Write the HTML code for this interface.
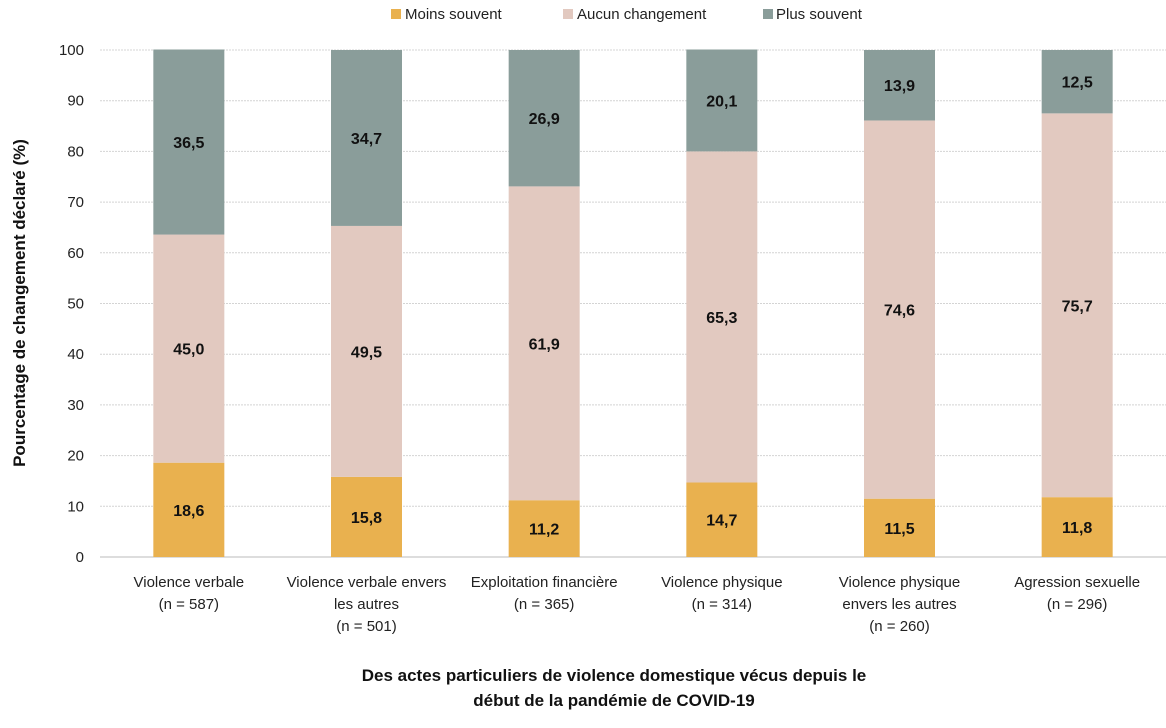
<!DOCTYPE html>
<html><head><meta charset="utf-8"><style>
body{margin:0;background:#fff;font-family:"Liberation Sans",sans-serif;}
svg text{font-family:"Liberation Sans",sans-serif;}
</style></head><body>
<svg id="chart" width="1166" height="723">
<g id="legend">
 <rect x="391" y="9" width="10" height="10" fill="#E9B14F"/>
 <text x="405" y="19" font-size="15" fill="#222">Moins souvent</text>
 <rect x="563" y="9" width="10" height="10" fill="#E2C9C0"/>
 <text x="577" y="19" font-size="15" fill="#222">Aucun changement</text>
 <rect x="763" y="9" width="10" height="10" fill="#8A9D9A"/>
 <text x="776" y="19" font-size="15" fill="#222">Plus souvent</text>
</g>
<g id="grid"></g><g id="bars"></g><g id="axis"></g>
<text transform="translate(25,303) rotate(-90)" text-anchor="middle" font-size="17" font-weight="bold" fill="#111">Pourcentage de changement déclaré (%)</text>
<text x="614" y="681" text-anchor="middle" font-size="17" font-weight="bold" fill="#111">Des actes particuliers de violence domestique vécus depuis le</text>
<text x="614" y="706" text-anchor="middle" font-size="17" font-weight="bold" fill="#111">début de la pandémie de COVID-19</text>
</svg>
<script>
const categories=[["Violence verbale","(n = 587)"],["Violence verbale envers","les autres","(n = 501)"],["Exploitation financière","(n = 365)"],["Violence physique","(n = 314)"],["Violence physique","envers les autres","(n = 260)"],["Agression sexuelle","(n = 296)"]];
const moins=[18.6,15.8,11.2,14.7,11.5,11.8];
const aucun=[45.0,49.5,61.9,65.3,74.6,75.7];
const plus=[36.5,34.7,26.9,20.1,13.9,12.5];
const yTicks=[0,10,20,30,40,50,60,70,80,90,100];
const NS="http://www.w3.org/2000/svg";
const x0=100,x1=1166,yb=557,yt=50;
const y=v=>yb-(yb-yt)*v/100;
const band=(x1-x0)/categories.length;
const xc=i=>x0+band*(i+0.5);
function mk(p,t,a){const e=document.createElementNS(NS,t);for(const k in a)e.setAttribute(k,a[k]);p.appendChild(e);return e;}
const grid=document.getElementById('grid'),axis=document.getElementById('axis'),bars=document.getElementById('bars');
yTicks.forEach(v=>{
 const l=mk(grid,'line',{x1:x0,x2:x1,y1:y(v),y2:y(v),stroke:v===0?'#bbb':'#d4d4d4','stroke-dasharray':v===0?'':'2,1'});
 
 
 const t=mk(axis,'text',{x:84,y:y(v)+5,'text-anchor':'end','font-size':15,fill:'#222'});
 t.textContent=v;
 
 
});
const series=[[moins,'#E9B14F','moins'],[aucun,'#E2C9C0','aucun'],[plus,'#8A9D9A','plus']];
const fmt=v=>v.toFixed(1).replace('.',',');
categories.forEach((c,i)=>{
 let base=0;
 series.forEach(([arr,col,nm])=>{
  const v=arr[i];
  const r=mk(bars,'rect',{x:xc(i)-35.5,width:71,y:y(base+v),height:y(base)-y(base+v),fill:col});
  
  
  const t=mk(bars,'text',{x:xc(i),y:(y(base)+y(base+v))/2+6,'text-anchor':'middle','font-size':16,'font-weight':'bold',fill:'#111'});
  t.textContent=fmt(v);
  
  
  base+=v;
 });
 c.forEach((line,j)=>{
  const t=mk(axis,'text',{x:xc(i),y:587+j*22,'text-anchor':'middle','font-size':15,fill:'#222'});
  t.textContent=line;
  
  
 });
});
</script>
</body></html>
